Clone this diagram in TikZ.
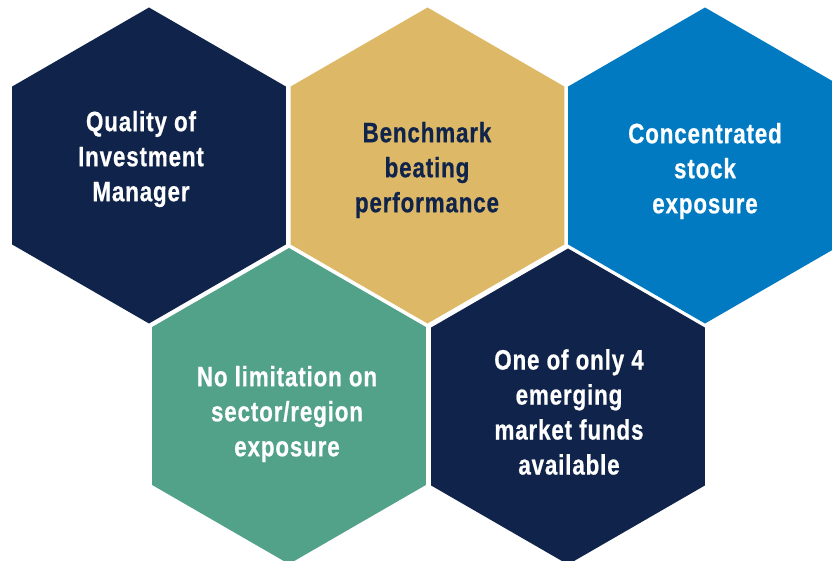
\documentclass[tikz,border=0pt]{standalone}
\usepackage{fontspec}
\newfontfamily\hexfont{Liberation Sans}[FakeStretch=0.8, FakeBold=0.6, LetterSpace=3]
\definecolor{navy}{HTML}{10234A}
\definecolor{gold}{HTML}{DDB967}
\definecolor{skyblue}{HTML}{017AC2}
\definecolor{teal}{HTML}{52A189}
\tikzset{
  hexlabel/.style={align=center, inner sep=0pt, font=\hexfont\bfseries\fontsize{28}{35}\selectfont},
}
\newcommand\hexagon[3]{\fill[#3, shift={(#1,#2)}] (90:158) -- (30:158) -- (-30:158) -- (-90:158) -- (-150:158) -- (150:158) -- cycle;}
\begin{document}
\begin{tikzpicture}[x=1pt,y=-1pt]
\useasboundingbox (0,0) rectangle (832,561);
\begin{scope}
\clip (0,0) rectangle (832,561);
\hexagon{149}{165.5}{navy}
\hexagon{427.5}{165.5}{gold}
\hexagon{705}{165.5}{skyblue}
\hexagon{289}{406}{teal}
\hexagon{568}{406.5}{navy}
\end{scope}
\node[hexlabel, text=white] (q) at (141,159) {Quality of\\Investment\\Manager};
\node[hexlabel, text=navy] (b) at (427,170) {Benchmark\\beating\\performance};
\node[hexlabel, text=white] (c) at (705,171) {Concentrated\\stock\\exposure};
\node[hexlabel, text=white] (n) at (287,414) {No limitation on\\sector/region\\exposure};
\node[hexlabel, text=white] (o) at (569,412) {One of only 4\\emerging\\market funds\\available};
\end{tikzpicture}
\end{document}
